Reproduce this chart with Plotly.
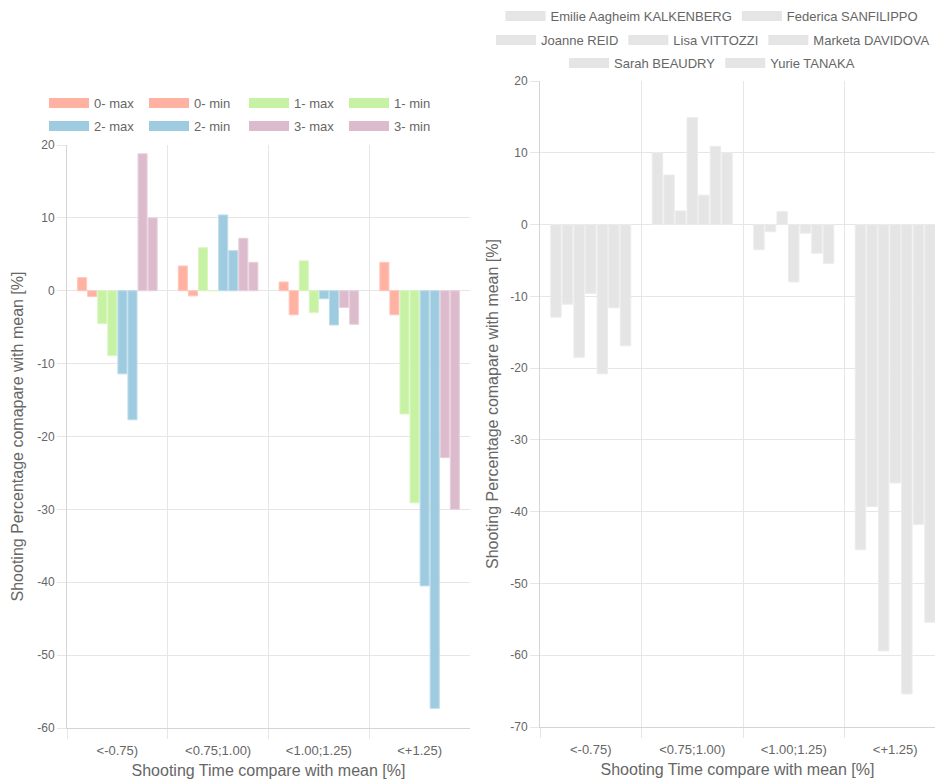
import plotly.graph_objects as go

# Shooting-time buckets (relative to the athlete's mean time)
categories = ["<-0.75)", "<0.75;1.00)", "<1.00;1.25)", "<+1.25)"]

# Value-axis ticks (plain hyphen minus signs)
left_ticks = [20, 10, 0, -10, -20, -30, -40, -50, -60]
right_ticks = [20, 10, 0, -10, -20, -30, -40, -50, -60, -70]
left_tick_labels = ["20", "10", "0", "-10", "-20", "-30", "-40", "-50", "-60"]
right_tick_labels = ["20", "10", "0", "-10", "-20", "-30", "-40", "-50", "-60", "-70"]

# Left panel: deviation of shooting percentage per number of misses (max / min)
miss_series = ["0- max", "0- min", "1- max", "1- min", "2- max", "2- min", "3- max", "3- min"]
miss_0_max = [1.8, 3.4, 1.2, 3.9]
miss_0_min = [-0.8, -0.7, -3.3, -3.3]
miss_1_max = [-4.5, 5.9, 4.1, -16.9]
miss_1_min = [-8.9, 0.0, -3.0, -29.1]
miss_2_max = [-11.4, 10.4, -1.1, -40.5]
miss_2_min = [-17.7, 5.5, -4.7, -57.3]
miss_3_max = [18.8, 7.2, -2.3, -22.9]
miss_3_min = [10.0, 3.9, -4.6, -30.0]
miss_values = [miss_0_max, miss_0_min, miss_1_max, miss_1_min,
               miss_2_max, miss_2_min, miss_3_max, miss_3_min]

# Right panel: deviation per athlete
athletes = ["Emilie Aagheim KALKENBERG", "Federica SANFILIPPO", "Joanne REID",
            "Lisa VITTOZZI", "Marketa DAVIDOVA", "Sarah BEAUDRY", "Yurie TANAKA"]
kalkenberg = [-12.9, 10.0, -3.5, -45.3]
sanfilippo = [-11.1, 6.9, -1.0, -39.3]
reid = [-18.5, 1.9, 1.8, -59.4]
vittozzi = [-9.6, 14.9, -8.0, -36.0]
davidova = [-20.8, 4.1, -1.2, -65.4]
beaudry = [-11.6, 10.9, -4.0, -41.8]
tanaka = [-16.9, 10.0, -5.4, -55.4]
athlete_values = [kalkenberg, sanfilippo, reid, vittozzi, davidova, beaudry, tanaka]

W, H = 935, 780
FONT = "Liberation Sans, Arial, Helvetica, sans-serif"
TXT = "#666666"
GRID = "#e6e6e6"
AXIS = "#d4d4d4"

pair_fill = ["#ffb1a2", "#ffb1a2", "#c7f2a3", "#c7f2a3",
             "#9fcbe0", "#9fcbe0", "#dcbccc", "#dcbccc"]
pair_edge = ["#ffc7bc", "#ffc7bc", "#d9f6c0", "#d9f6c0",
             "#bcdcea", "#bcdcea", "#e8d1dd", "#e8d1dd"]
gray_fill = "#e5e5e5"

xs = list(range(len(categories)))
fig = go.Figure()

for name, vals, fc, ec in zip(miss_series, miss_values, pair_fill, pair_edge):
    fig.add_trace(go.Bar(x=xs, y=vals, name=name, xaxis="x", yaxis="y",
                         marker=dict(color=fc, line=dict(color=ec, width=1)),
                         showlegend=False, hoverinfo="skip"))

for name, vals in zip(athletes, athlete_values):
    fig.add_trace(go.Bar(x=xs, y=vals, name=name, xaxis="x2", yaxis="y2",
                         marker=dict(color=gray_fill, line=dict(color="#ececec", width=1)),
                         showlegend=False, hoverinfo="skip"))

# Legend entries: wide colour boxes drawn as thick legend lines
left_rows = [miss_series[:4], miss_series[4:]]
right_rows = [athletes[:2], athletes[2:5], athletes[5:]]
legend_names = {}
for r, row in enumerate(left_rows):
    for nm in row:
        legend_names[nm] = ("legend" if r == 0 else "legend%d" % (r + 1),
                            pair_fill[miss_series.index(nm)], "x", "y")
for r, row in enumerate(right_rows):
    for nm in row:
        legend_names[nm] = ("legend%d" % (r + 3), gray_fill, "x2", "y2")

for nm, (lg, col, xa, ya) in legend_names.items():
    fig.add_trace(go.Scatter(x=[None], y=[None], mode="lines", name=nm,
                             line=dict(color=col, width=12), legend=lg,
                             xaxis=xa, yaxis=ya, hoverinfo="skip"))

def legend_cfg(xc, ypx, entry=None):
    d = dict(orientation="h", x=xc / W, xanchor="center", y=1 - ypx / H,
             yanchor="middle", itemwidth=40, bgcolor="rgba(0,0,0,0)",
             font=dict(family=FONT, size=13, color=TXT), tracegroupgap=0,
             itemclick=False, itemdoubleclick=False)
    if entry:
        d["entrywidth"] = entry
        d["entrywidthmode"] = "pixels"
    return d

boundaries = [-0.5, 0.5, 1.5, 2.5]

def xaxis_cfg(domain, rng):
    return dict(domain=domain, range=rng, tickvals=xs, ticktext=categories,
                showgrid=False, zeroline=False, showline=True, linecolor=AXIS,
                ticks="outside", ticklen=10, tickcolor="rgba(0,0,0,0)",
                tickfont=dict(family=FONT, size=13, color=TXT),
                minor=dict(tickvals=boundaries, showgrid=True, gridcolor=GRID,
                           ticks="outside", ticklen=10, tickcolor=GRID),
                title=dict(text="Shooting Time compare with mean [%]", standoff=8,
                           font=dict(family=FONT, size=16, color=TXT)),
                automargin=False, fixedrange=True)

def yaxis_cfg(domain, rng, anchor, tv, tt, standoff):
    return dict(domain=domain, range=rng, tickvals=tv, ticktext=tt, anchor=anchor,
                showgrid=True, gridcolor=GRID, zeroline=True, zerolinecolor=GRID,
                zerolinewidth=1, showline=True, linecolor=AXIS,
                ticks="outside", ticklen=9, tickcolor=GRID,
                tickfont=dict(family=FONT, size=12, color=TXT),
                title=dict(text="Shooting Percentage comapare with mean [%]",
                           standoff=standoff,
                           font=dict(family=FONT, size=16, color=TXT)),
                automargin=False, fixedrange=True)

right_end = 3.5 - 11 / 101.5

fig.update_layout(
    width=W, height=H,
    margin=dict(l=0, r=0, t=0, b=0),
    paper_bgcolor="white", plot_bgcolor="white",
    barmode="group", bargap=0.2, bargroupgap=0.1,
    font=dict(family=FONT, color=TXT),
    xaxis=xaxis_cfg([67 / W, 470 / W], [-0.5, 3.5]),
    yaxis=yaxis_cfg([1 - 728 / H, 1 - 145 / H], [-60, 20], "x",
                    left_ticks, left_tick_labels, 9),
    xaxis2=dict(xaxis_cfg([540 / W, 1.0], [-0.5, right_end]), anchor="y2"),
    yaxis2=yaxis_cfg([1 - 727 / H, 1 - 81 / H], [-70, 20], "x2",
                     right_ticks, right_tick_labels, 7),
    legend=legend_cfg(244, 103, 45),
    legend2=legend_cfg(244, 126, 45),
    legend3=legend_cfg(712, 16),
    legend4=legend_cfg(713, 40),
    legend5=legend_cfg(712, 63),
    hovermode=False,
)
fig.layout.xaxis.anchor = "y"

fig.write_html("out.html", config={"displayModeBar": False})
